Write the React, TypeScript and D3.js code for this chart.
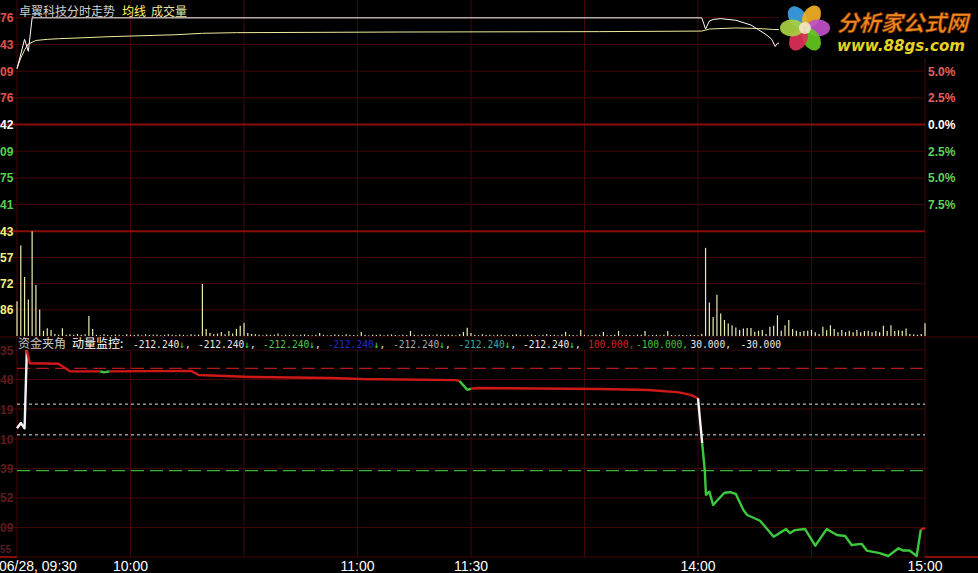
import React, { useEffect } from 'react';
import * as d3 from 'd3';

const W = 978;
const H = 573;
const prevClose = 13.42;

// ---- price panel data (minute index from 09:30, price) ----
const priceMinutes = [0, 2, 3, 4, 181, 182, 183, 184, 186, 190, 194, 196, 198, 199.5, 200.4, 201, 210, 220, 230, 240];
const priceValues = [14.12, 14.49, 14.34, 14.76, 14.76, 14.62, 14.72, 14.74, 14.75, 14.73, 14.67, 14.61, 14.55, 14.49, 14.40, 14.44, 14.5, 14.52, 14.5, 14.48];

const avgMinutes = [0, 1, 2, 3, 5, 8, 11, 18, 24, 42, 49, 58, 101, 154, 181, 183, 190, 196, 200, 210, 240];
const avgValues = [14.126, 14.256, 14.357, 14.432, 14.476, 14.49, 14.498, 14.511, 14.523, 14.548, 14.566, 14.574, 14.582, 14.587, 14.594, 14.62, 14.633, 14.626, 14.614, 14.6, 14.59];

const volumes = [
  1705, 4443, 2897, 1787, 5143, 2511, 1304, 256, 386, 290, 100, 60, 386, 60, 80, 60, 100, 60, 80, 980, 338,
  60, 40, 90, 50, 40, 70, 60, 40, 80, 60, 50, 70, 40, 90, 50, 60, 70, 40, 60, 80, 60, 50, 70, 60, 40, 90, 60, 70,
  2560, 340, 150, 90, 120, 200, 90, 250, 120, 350, 500, 650, 150, 100,
  80, 60, 40, 70, 50, 60, 120, 40, 60, 50,
  70, 40, 60, 80, 50, 40, 60, 150, 60, 40,
  50, 70, 60, 40, 80, 60, 50, 40, 200, 60,
  40, 60, 50, 70, 40, 60, 80, 50, 40, 60,
  50, 250, 60, 40, 70, 50, 60, 40, 80, 60,
  50, 70, 60, 40, 90, 200, 400, 150,
  60, 40, 80, 50, 60, 40, 70, 60, 50, 40,
  60, 80, 50, 40, 60, 70, 50, 40, 60, 80,
  50, 60, 40, 70, 200, 60, 50, 40, 300, 60,
  40, 50, 70, 60, 200, 40, 50, 60, 250, 40,
  60, 50, 40, 70, 60, 250, 40, 50, 60, 40,
  60, 250, 50, 40, 60, 50, 40, 60, 50, 40,
  100, 4332, 1650, 930, 2030, 1110, 790, 610, 530, 420,
  300, 370, 390, 390, 210, 260, 300, 100, 450, 500,
  1015, 260, 530, 790, 340, 260, 200, 240, 260, 300,
  190, 100, 450, 280, 530, 340, 190, 300, 190, 260,
  190, 300, 190, 240, 260, 190, 240, 190, 500, 240,
  530, 240, 280, 260, 370, 100, 80, 60, 100, 630,
];

// ---- indicator (资金夹角) ----
const indMinutes = [0, 1, 2, 2.6, 3.4, 11, 14, 22, 23, 24.5, 46, 48, 62, 83, 91, 116, 117, 119, 120, 122, 154, 167, 175, 178, 180, 181.1, 181.8, 182.1, 183, 184, 185, 187, 188.5, 190, 192, 193, 196.4, 200, 201.7, 203.3, 204.3, 205.6, 208.3, 211, 214, 216.7, 218.9, 220.6, 223.3, 224.6, 228, 230.3, 233, 234.3, 235.9, 237.8, 238.9, 240];
const indValues = [-17, -7, -17, 135, 110, 109, 94, 94, 92, 94, 95, 87, 83, 81, 79, 77, 75, 58, 60, 61.5, 59.6, 57.6, 53, 48, 41.5, -46, -100, -147, -141, -167, -158.6, -143, -142, -145.5, -176.8, -186.5, -197.7, -229, -221, -214, -222, -216, -214, -246.5, -214, -225.6, -227.5, -245, -243, -256, -261, -266.6, -251.6, -256, -256, -266.6, -214.5, -212.24];
// colour of the segment that ends at each point
const indColors = ['w', 'w', 'w', 'w', 'r', 'r', 'r', 'r', 'g', 'g', 'r', 'r', 'r', 'r', 'r', 'r', 'r', 'g', 'g', 'r', 'r', 'r', 'r', 'r', 'r', 'w', 'g', 'g', 'g', 'g', 'g', 'g', 'g', 'g', 'g', 'g', 'g', 'g', 'g', 'g', 'g', 'g', 'g', 'g', 'g', 'g', 'g', 'g', 'g', 'g', 'g', 'g', 'g', 'g', 'g', 'g', 'g', 'r'];

// ---- ticks ----
const pctTicks = [10, 7.5, 5, 2.5, 0, -2.5, -5, -7.5];
const priceTickLabels = ['76', '43', '09', '76', '42', '09', '75', '41'];
const rightPctTicks = [5, 2.5, 0, -2.5, -5, -7.5];
const rightPctLabels = ['5.0%', '2.5%', '0.0%', '2.5%', '5.0%', '7.5%'];
const volTicks = [5143, 3857, 2572, 1286];
const volTickLabels = ['43', '57', '72', '86'];
const indTicks = [135.7, 78.1, 20.5, -38.1, -95.7, -153.3, -210.9, -268.6];
const indTickLabels = ['35', '48', '19', '10', '39', '52', '09', '55'];
const gridMinutes = [0, 30, 60, 90, 120, 150, 180, 210, 240];
const timeTicks = [0, 30, 90, 120, 180, 240];
const timeLabels = ['06/28, 09:30', '10:00', '11:00', '11:30', '14:00', '15:00'];

const legendItems = ['-212.240', '-212.240', '-212.240', '-212.240', '-212.240', '-212.240', '-212.240', '100.000', '-100.000', '30.000', '-30.000'];
const legendColors = ['#e8e8e8', '#e8e8e8', '#50c850', '#2828c8', '#a8a8a8', '#40a8a0', '#e8e8e8', '#d02020', '#40c040', '#e8e8e8', '#e8e8e8'];
const legendX = [133, 198, 263, 327.5, 393, 458.5, 523, 588, 636, 690.5, 740.5];

const DIM = '#420808';
const BRIGHT = '#8a0c0c';

export default function App() {
  useEffect(() => {
    document.body.style.margin = '0';
    document.body.style.background = '#000';
  }, []);

  const x = d3.scaleLinear().domain([0, 240]).range([17, 925]);
  const yPct = d3.scaleLinear().domain([-10, 10]).range([231.3, 17.7]);
  const yPrice = (p: number) => yPct((p / prevClose - 1) * 100);
  const yVol = d3.scaleLinear().domain([0, 5143]).range([336, 231.3]);
  const yInd = d3.scaleLinear().domain([-100, 100]).range([470.7, 368.3]);

  const priceLine = d3.line<number>().x((d, i) => x(priceMinutes[i])).y((d) => yPrice(d));
  const avgLine = d3.line<number>().x((d, i) => x(avgMinutes[i])).y((d) => yPrice(d));

  const colorMap: Record<string, string> = { r: '#d01818', g: '#3cc83c', w: '#f4f4f4' };
  const runs: { c: string; pts: [number, number][] }[] = [];
  for (let i = 1; i < indMinutes.length; i++) {
    const c = indColors[i];
    const p0: [number, number] = [x(indMinutes[i - 1]), yInd(indValues[i - 1])];
    const p1: [number, number] = [x(indMinutes[i]), yInd(indValues[i])];
    const last = runs[runs.length - 1];
    if (last && last.c === c) last.pts.push(p1);
    else runs.push({ c, pts: [p0, p1] });
  }
  const segLine = d3.line<[number, number]>();
  const lastInd = indTicks.length - 1;

  return (
    <svg width={W} height={H} style={{ position: 'absolute', left: 0, top: 0, background: '#000' }}>
      <rect x={0} y={0} width={W} height={H} fill="#000" />

      {/* vertical grid */}
      {gridMinutes.map((m) => (
        <line key={'vg' + m} x1={x(m)} x2={x(m)} y1={0} y2={557} stroke={DIM} strokeWidth={1} />
      ))}

      {/* price grid */}
      {pctTicks.map((p) => (
        <line key={'pg' + p} x1={0} x2={925} y1={yPct(p)} y2={yPct(p)} stroke={p === 0 ? BRIGHT : DIM} strokeWidth={p === 0 ? 2 : 1} />
      ))}
      {volTicks.map((v, i) => (
        <line key={'vgl' + v} x1={0} x2={925} y1={yVol(v)} y2={yVol(v)} stroke={i === 0 ? BRIGHT : DIM} strokeWidth={i === 0 ? 2 : 1} />
      ))}
      <line x1={0} x2={W} y1={337} y2={337} stroke={DIM} strokeWidth={1} />

      {/* lower grid */}
      {indTicks.map((v, i) => (
        <line key={'ig' + i} x1={0} x2={925} y1={yInd(v)} y2={yInd(v)} stroke={DIM} strokeWidth={1} />
      ))}
      <line x1={0} x2={17} y1={yInd(indTicks[lastInd])} y2={yInd(indTicks[lastInd])} stroke={BRIGHT} strokeWidth={2} />
      <line x1={925} x2={W} y1={yInd(indTicks[lastInd])} y2={yInd(indTicks[lastInd])} stroke={BRIGHT} strokeWidth={2} />

      {/* left labels */}
      <g fontFamily="'Liberation Sans', Arial, sans-serif" fontWeight="bold" fontSize={12}>
        {pctTicks.map((p, i) => (
          <text key={'pl' + i} x={0} y={yPct(p) + 4.5} fill={p > 0 ? '#e05050' : p === 0 ? '#ffffff' : '#50d050'}>
            {priceTickLabels[i]}
          </text>
        ))}
        {volTicks.map((v, i) => (
          <text key={'vl' + i} x={0} y={yVol(v) + 4.5} fill="#f0f080">
            {volTickLabels[i]}
          </text>
        ))}
        {indTicks.map((v, i) => (
          <text key={'il' + i} x={0} y={i === lastInd ? yInd(v) - 4 : yInd(v) + 4.5} fontSize={i === lastInd ? 10 : 12} fill="#5a1c1c">
            {indTickLabels[i]}
          </text>
        ))}
        {rightPctTicks.map((p, i) => (
          <text key={'rl' + i} x={928} y={yPct(p) + 4.5} fill={p > 0 ? '#e06060' : p === 0 ? '#ffffff' : '#60d060'}>
            {rightPctLabels[i]}
          </text>
        ))}
      </g>

      {/* volume bars */}
      {volumes.map((v, i) => (
        <line key={'vb' + i} x1={x(i)} x2={x(i)} y1={yVol(0)} y2={yVol(v)} stroke="#eaeab0" strokeWidth={1.2} />
      ))}

      {/* average & price */}
      <path d={avgLine(avgValues) || ''} fill="none" stroke="#ecec9c" strokeWidth={1} />
      <path d={priceLine(priceValues) || ''} fill="none" stroke="#ffffff" strokeWidth={1} />

      {/* reference levels in lower panel */}
      <line x1={17} x2={925} y1={yInd(100)} y2={yInd(100)} stroke="#b41818" strokeWidth={1.2} strokeDasharray="13,6" />
      <line x1={17} x2={925} y1={yInd(30)} y2={yInd(30)} stroke="#e0e0e0" strokeWidth={1} strokeDasharray="3,3" />
      <line x1={17} x2={925} y1={yInd(-30)} y2={yInd(-30)} stroke="#e0e0e0" strokeWidth={1} strokeDasharray="3,3" />
      <line x1={17} x2={925} y1={yInd(-100)} y2={yInd(-100)} stroke="#3cb43c" strokeWidth={1.2} strokeDasharray="13,6" />

      {/* indicator line */}
      {runs.map((r, i) => (
        <path key={'run' + i} d={segLine(r.pts) || ''} fill="none" stroke={colorMap[r.c]} strokeWidth={2.4} strokeLinejoin="round" />
      ))}

      {/* titles */}
      <text x={19} y={16} fontFamily="'Noto Sans CJK SC', sans-serif" fontSize={12}>
        <tspan fill="#d0d0d0">卓翼科技分时走势</tspan>
        <tspan x={122} fill="#ffff60">均线</tspan>
        <tspan x={151} fill="#e6e6a0">成交量</tspan>
      </text>
      <rect x={17} y={337.5} width={780} height={12} fill="#000" />
      <text x={18} y={348} fontFamily="'Noto Sans CJK SC', sans-serif" fontSize={12}>
        <tspan fill="#c8c8c8">资金夹角</tspan>
        <tspan x={72} fill="#ffffff">动量监控:</tspan>
      </text>
      <g fontFamily="'DejaVu Sans Mono', monospace" fontSize={9.6}>
        {legendItems.map((t, i) => (
          <text key={'lg' + i} x={legendX[i]} y={348} fill={legendColors[i]}>
            {t}
            {i < 7 ? <tspan fill="#40e040">↓</tspan> : null}
            {i < legendItems.length - 1 ? <tspan fill={i < 7 ? '#e8e8e8' : legendColors[i]}>,</tspan> : null}
          </text>
        ))}
      </g>

      {/* time axis */}
      <g fontFamily="'Liberation Sans', Arial, sans-serif" fontSize={14} fill="#ffffff">
        {timeTicks.map((m, i) => (
          <text key={'tl' + i} x={i === 0 ? -1 : x(m)} y={570.5} textAnchor={i === 0 ? 'start' : 'middle'}>
            {timeLabels[i]}
          </text>
        ))}
      </g>

      {/* logo */}
      <g>
        <rect x={779} y={0} width={199} height={58} fill="#000" />
        <g transform="translate(805,28)">
          {[
            { a: -125, c: '#3aa0e8' },
            { a: -60, c: '#f2b024' },
            { a: 0, c: '#c050c8' },
            { a: 60, c: '#62c81e' },
            { a: 120, c: '#e03058' },
            { a: 180, c: '#a8d040' },
          ].map((p, i) => (
            <ellipse key={'pt' + i} cx={0} cy={-13} rx={8.5} ry={12} fill={p.c} opacity={0.92} transform={`rotate(${p.a + 90})`} />
          ))}
          <circle cx={0} cy={0} r={6} fill="#f4e8c8" opacity={0.9} />
        </g>
        <text x={837} y={31} fontFamily="'Noto Sans CJK SC', sans-serif" fontWeight="bold" fontStyle="italic" fontSize={22} fill="#f08a1c" stroke="#7a2a00" strokeWidth={0.6} textLength={131} lengthAdjust="spacingAndGlyphs">
          分析家公式网
        </text>
        <text x={837} y={51} fontFamily="'DejaVu Sans', sans-serif" fontWeight="bold" fontStyle="italic" fontSize={15} fill="#e6d224" textLength={128} lengthAdjust="spacingAndGlyphs">
          www.88gs.com
        </text>
      </g>
    </svg>
  );
}
